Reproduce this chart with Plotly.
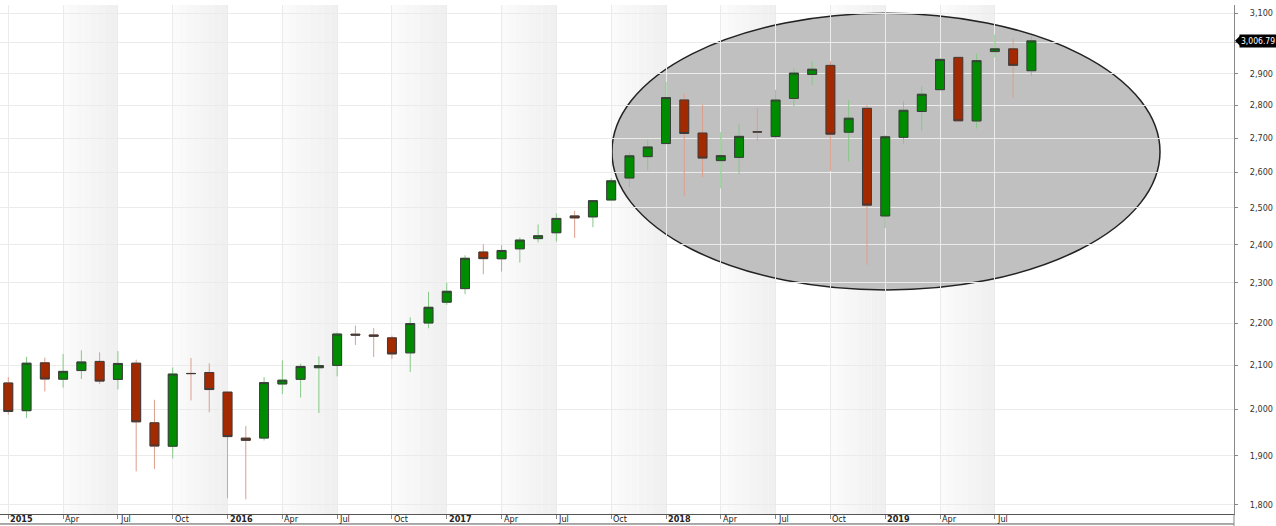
import math
import plotly.graph_objects as go

# S&P 500 monthly candles, Jan 2015 .. Sep 2019 (last one partial)
months = ["2015-01", "2015-02", "2015-03", "2015-04", "2015-05", "2015-06",
          "2015-07", "2015-08", "2015-09", "2015-10", "2015-11", "2015-12",
          "2016-01", "2016-02", "2016-03", "2016-04", "2016-05", "2016-06",
          "2016-07", "2016-08", "2016-09", "2016-10", "2016-11", "2016-12",
          "2017-01", "2017-02", "2017-03", "2017-04", "2017-05", "2017-06",
          "2017-07", "2017-08", "2017-09", "2017-10", "2017-11", "2017-12",
          "2018-01", "2018-02", "2018-03", "2018-04", "2018-05", "2018-06",
          "2018-07", "2018-08", "2018-09", "2018-10", "2018-11", "2018-12",
          "2019-01", "2019-02", "2019-03", "2019-04", "2019-05", "2019-06",
          "2019-07", "2019-08", "2019-09"]
opens = [2058.90, 1996.67, 2105.23, 2067.63, 2087.38, 2108.64, 2067.00, 2104.49,
         1970.09, 1919.65, 2080.76, 2082.93, 2038.20, 1936.94, 1937.09, 2056.62,
         2067.17, 2093.94, 2099.34, 2173.15, 2171.33, 2164.33, 2128.68, 2200.17,
         2251.57, 2285.59, 2380.13, 2362.34, 2388.50, 2415.65, 2431.39, 2477.10,
         2474.42, 2521.20, 2583.21, 2645.10, 2683.73, 2816.45, 2715.22, 2633.45,
         2642.96, 2718.70, 2704.95, 2821.17, 2896.96, 2926.29, 2717.58, 2790.50,
         2476.96, 2702.32, 2780.67, 2848.63, 2952.33, 2751.53, 2971.41, 2980.32,
         2909.01]
highs = [2072.36, 2119.59, 2117.52, 2125.92, 2134.72, 2129.87, 2132.82, 2112.66,
         2020.86, 2094.32, 2116.48, 2104.27, 2038.20, 1962.96, 2072.21, 2111.05,
         2103.48, 2120.55, 2177.09, 2193.81, 2187.87, 2169.60, 2214.10, 2277.53,
         2300.99, 2371.54, 2400.98, 2398.16, 2418.71, 2453.82, 2484.04, 2490.87,
         2519.44, 2582.98, 2657.74, 2694.97, 2872.87, 2835.96, 2801.90, 2717.49,
         2742.24, 2791.47, 2848.03, 2916.50, 2940.91, 2939.86, 2815.15, 2800.18,
         2708.95, 2813.49, 2860.31, 2949.52, 2954.13, 2964.15, 3027.98, 3013.59,
         3021.99]
lows = [1988.12, 1980.90, 2039.69, 2048.38, 2067.93, 2056.32, 2044.02, 1867.01,
        1871.91, 1893.70, 2019.39, 1993.26, 1812.29, 1810.10, 1931.81, 2033.80,
        2025.91, 1991.68, 2074.02, 2147.58, 2119.12, 2114.72, 2083.79, 2187.44,
        2245.13, 2271.65, 2322.25, 2328.95, 2352.72, 2405.70, 2407.70, 2417.35,
        2446.55, 2520.40, 2557.45, 2605.52, 2682.36, 2532.69, 2585.89, 2553.80,
        2594.62, 2691.99, 2698.95, 2796.34, 2864.12, 2603.54, 2631.09, 2346.58,
        2443.96, 2681.83, 2722.27, 2848.63, 2750.52, 2728.81, 2952.22, 2822.12,
        2891.85]
closes = [1994.99, 2104.50, 2067.89, 2085.51, 2107.39, 2063.11, 2103.84, 1972.18,
          1920.03, 2079.36, 2080.41, 2043.94, 1940.24, 1932.23, 2059.74, 2065.30,
          2096.95, 2098.86, 2173.60, 2170.95, 2168.27, 2126.15, 2198.81, 2238.83,
          2278.87, 2363.64, 2362.72, 2384.20, 2411.80, 2423.41, 2470.30, 2471.65,
          2519.36, 2575.26, 2647.58, 2673.61, 2823.81, 2713.83, 2640.87, 2648.05,
          2705.27, 2718.37, 2816.29, 2901.52, 2913.98, 2711.74, 2760.17, 2506.85,
          2704.10, 2784.49, 2834.40, 2945.83, 2752.06, 2941.76, 2980.38, 2926.46,
          3006.79]

quarter_labels = ["2015", "Apr", "Jul", "Oct", "2016", "Apr", "Jul", "Oct",
                  "2017", "Apr", "Jul", "Oct", "2018", "Apr", "Jul", "Oct",
                  "2019", "Apr", "Jul"]
price_ticks = [1800, 1900, 2000, 2100, 2200, 2300, 2400, 2500, 2600, 2700,
               2800, 2900, 3000, 3100]
last_price = 3006.79

x = list(range(len(months)))
quarter_pos = list(range(0, 3 * len(quarter_labels), 3))
body_hi = [max(o, c) for o, c in zip(opens, closes)]
body_lo = [min(o, c) for o, c in zip(opens, closes)]
# the 3,000 label sits under the last-price tag, so leave it blank
price_text = ["" if p == 3000 else f"{p:,}" for p in price_ticks]

FONT = "Liberation Sans Narrow, DejaVu Sans Condensed, Liberation Sans, Arial, sans-serif"
GREEN = "#008c00"
RED = "#a32a00"

fig = go.Figure()

# wicks (light colours)
fig.add_trace(go.Candlestick(
    x=x, open=opens, high=highs, low=lows, close=closes,
    increasing=dict(line=dict(color="#86c986", width=1), fillcolor=GREEN),
    decreasing=dict(line=dict(color="#dc9f8c", width=1), fillcolor=RED),
    hoverinfo="skip", showlegend=False))
# bodies with dark outline
fig.add_trace(go.Candlestick(
    x=x, open=opens, high=body_hi, low=body_lo, close=closes,
    increasing=dict(line=dict(color="#3c3c3c", width=1), fillcolor=GREEN),
    decreasing=dict(line=dict(color="#3c3c3c", width=1), fillcolor=RED),
    hoverinfo="skip", showlegend=False))

shapes = []
# alternating quarter bands with light gradient
steps = 8
for q in range(1, len(quarter_labels) - 1, 2):
    start = quarter_pos[q]
    for s in range(steps):
        g = int(251 - 11 * s / (steps - 1))
        shapes.append(dict(type="rect", xref="x", yref="paper",
                           x0=start + 3 * s / steps, x1=start + 3 * (s + 1) / steps,
                           y0=0, y1=1, fillcolor=f"rgb({g},{g},{g})",
                           line=dict(width=0), layer="below"))
# highlight ellipse
shapes.append(dict(type="circle", xref="x", yref="y",
                   x0=33.04, x1=63.04, y0=2282, y1=3100,
                   fillcolor="#c0c0c0", line=dict(color="#222222", width=1.5),
                   layer="below"))
# blue marker line at Apr 2017
shapes.append(dict(type="line", xref="x", yref="paper", x0=27, x1=27, y0=0, y1=1,
                   line=dict(color="#c4c4ff", width=1), layer="below"))
# frame lines under the date labels and at the right
shapes.append(dict(type="line", xref="paper", yref="paper", x0=0, x1=1,
                   y0=-0.0196, y1=-0.0196, line=dict(color="#555555", width=1)))
shapes.append(dict(type="line", xref="paper", yref="paper", x0=1, x1=1,
                   y0=-0.03, y1=0, line=dict(color="#888888", width=1)))
# arrow tip of the last-price tag
shapes.append(dict(type="path", xref="paper", xsizemode="pixel", xanchor=1,
                   yref="y", ysizemode="pixel", yanchor=last_price,
                   path="M 6 -5 L 1 0 L 6 5 Z", fillcolor="black",
                   line=dict(width=0)))

annotations = []
for pos, lab in zip(quarter_pos, quarter_labels):
    is_year = lab.isdigit()
    annotations.append(dict(
        x=pos, y=0, xref="x", yref="paper", xanchor="left", yanchor="top",
        text=f"<b>{lab}</b>" if is_year else lab, showarrow=False,
        xshift=1, yshift=1, borderpad=0,
        font=dict(family=FONT, size=9, color="#222222")))
annotations.append(dict(
    x=1, y=math.log10(last_price), xref="paper", yref="y", xanchor="left",
    yanchor="middle", text=f"{last_price:,.2f}", showarrow=False,
    bgcolor="black", borderpad=1, xshift=5,
    font=dict(family=FONT, size=8.5, color="white")))

fig.update_layout(
    width=1276, height=526,
    margin=dict(l=0, r=42, t=5, b=12, autoexpand=False),
    paper_bgcolor="white", plot_bgcolor="white",
    showlegend=False,
    shapes=shapes, annotations=annotations,
    xaxis=dict(range=[-0.454, 67.09], tickvals=quarter_pos, showticklabels=False,
               ticks="outside", ticklen=4, tickcolor="#888888",
               showgrid=True, gridcolor="#ebebeb", gridwidth=1,
               showline=True, linecolor="#555555", linewidth=1,
               rangeslider=dict(visible=False), zeroline=False,
               automargin=False),
    yaxis=dict(type="log", side="right", range=[3.25064, 3.49535],
               tickvals=price_ticks, ticktext=price_text, ticks="outside",
               ticklen=3, tickcolor="#888888", ticklabelstandoff=10,
               showgrid=True, gridcolor="#ebebeb", gridwidth=1,
               showline=True, linecolor="#888888", linewidth=1,
               tickfont=dict(family=FONT, size=9, color="#333333"),
               zeroline=False, automargin=False),
)

# the page's default body margin would shift the chart by 8px
fig.write_html("out.html", config={"displayModeBar": False},
               post_script="document.body.style.margin='0';"
                           "document.body.style.overflow='hidden';")
